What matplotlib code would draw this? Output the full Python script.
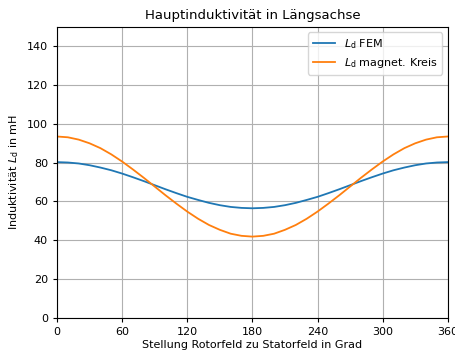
import matplotlib
matplotlib.use("Agg")
import matplotlib.pyplot as plt

# Stellung Rotorfeld in Grad
winkel = list(range(0, 361, 10))
# Ld aus FEM in mH
ld_fem = [80.3, 80.1, 79.6, 78.7, 77.5, 76.1, 74.4, 72.5, 70.5, 68.4,
          66.3, 64.3, 62.4, 60.8, 59.3, 58.1, 57.2, 56.7, 56.5,
          56.7, 57.2, 58.1, 59.3, 60.8, 62.4, 64.3, 66.3, 68.4,
          70.5, 72.5, 74.4, 76.1, 77.5, 78.7, 79.6, 80.1, 80.3]
# Ld aus magnetischem Kreis in mH
ld_kreis = [93.5, 93.1, 91.9, 90.0, 87.5, 84.3, 80.6, 76.5, 72.2, 67.7,
            63.2, 58.9, 54.8, 51.1, 47.9, 45.4, 43.4, 42.3, 41.9,
            42.3, 43.4, 45.4, 47.9, 51.1, 54.8, 58.9, 63.2, 67.7,
            72.2, 76.5, 80.6, 84.3, 87.5, 90.0, 91.9, 93.1, 93.5]

fig, ax = plt.subplots(figsize=(4.56, 3.54), dpi=100)
fig.subplots_adjust(left=0.125, right=0.982, top=0.924, bottom=0.102)

ax.plot(winkel, ld_fem, color='#1f77b4', lw=1.3, label=r'$L_\mathrm{d}$ FEM')
ax.plot(winkel, ld_kreis, color='#ff7f0e', lw=1.3, label=r'$L_\mathrm{d}$ magnet. Kreis')

ax.set_xlim(0, 360)
ax.set_ylim(0, 150)
ax.set_xticks(range(0, 361, 60))
ax.set_yticks(range(0, 141, 20))
ax.grid(True, color='#b0b0b0', lw=0.8)
ax.tick_params(labelsize=8, length=3)

ax.set_title('Hauptinduktivität in Längsachse', fontsize=9.5)
ax.set_xlabel('Stellung Rotorfeld zu Statorfeld in Grad', fontsize=8, labelpad=2)
ax.set_ylabel(r'Induktivität $L_\mathrm{d}$ in mH', fontsize=8)
ax.legend(loc='upper right', fontsize=8)

fig.savefig('out.png', dpi=100)
